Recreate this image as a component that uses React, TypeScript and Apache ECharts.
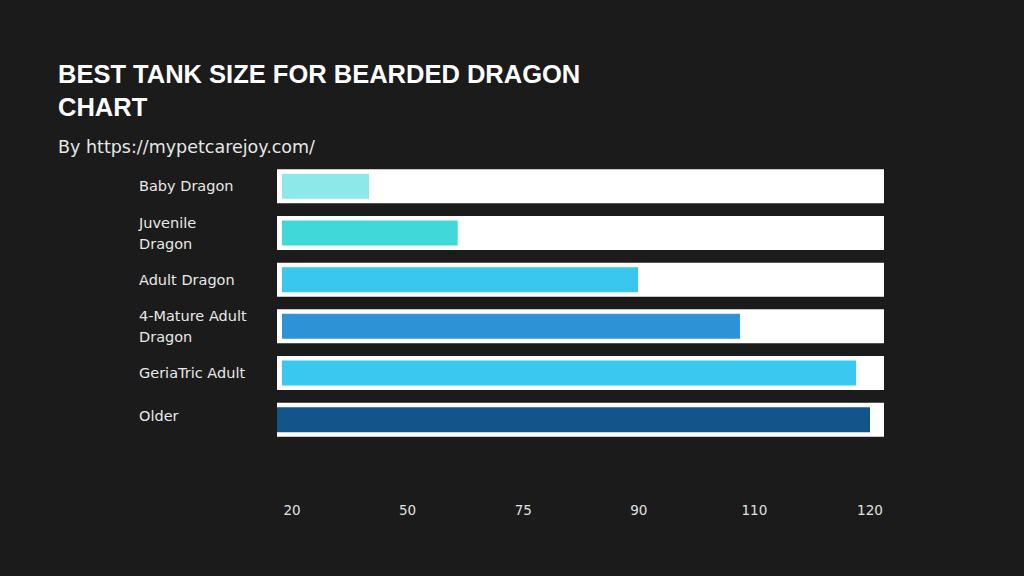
import React, { useEffect, useRef } from "react";
import * as echarts from "echarts";

const CATEGORIES = [
  "Baby Dragon",
  "Juvenile\nDragon",
  "Adult Dragon",
  "4-Mature Adult\nDragon",
  "GeriaTric Adult",
  "Older",
];
const TICK_LABELS = ["20", "50", "75", "90", "110", "120"];
// tick positions on the axis scale (one unit per label step)
const TICK_POSITIONS = [0.13, 1.13, 2.13, 3.13, 4.13, 5.13];
// where each coloured bar starts and ends on that scale
const BAR_START = [0.043, 0.043, 0.043, 0.043, 0.043, 0];
const BAR_END = [0.796, 1.563, 3.123, 4.005, 5.009, 5.13];
const TRACK_END = [5.251, 5.251, 5.251, 5.251, 5.251, 5.251];
const BAR_COLORS = ["#8de9e9", "#3fd9d9", "#39c7ee", "#2e92d7", "#39c8f0", "#13558a"];

const AXIS_MAX = 5.251;

export default function App() {
  const ref = useRef<HTMLDivElement>(null);
  useEffect(() => {
    if (!ref.current) return;
    const chart = echarts.init(ref.current, undefined, { renderer: "svg" });
    const lengths = BAR_END.map((e, i) => e - BAR_START[i]);
    const labelData = CATEGORIES.map((c) =>
      c === "Older"
        ? { value: c, textStyle: { align: "left", verticalAlign: "bottom", lineHeight: 8 } }
        : c
    );
    chart.setOption({
      animation: false,
      backgroundColor: "#1b1b1b",
      title: [
        {
          text: "BEST TANK SIZE FOR BEARDED DRAGON\nCHART",
          left: 53,
          top: 52,
          textStyle: {
            color: "#ffffff",
            fontFamily: "Liberation Sans",
            fontWeight: "bold",
            fontSize: 25.5,
            lineHeight: 33,
          },
        },
        {
          text: "By https://mypetcarejoy.com/",
          left: 53,
          top: 131,
          textStyle: {
            color: "#e6e6e6",
            fontFamily: "DejaVu Sans",
            fontWeight: 400,
            fontSize: 17.5,
            lineHeight: 21,
          },
        },
      ],
      grid: { left: 277, right: 140, top: 163, bottom: 133, containLabel: false },
      xAxis: {
        type: "value",
        min: 0,
        max: AXIS_MAX,
        splitLine: { show: false },
        axisLine: { show: false },
        axisTick: { show: false },
        axisLabel: {
          customValues: TICK_POSITIONS,
          formatter: (v: number) => {
            const i = TICK_POSITIONS.findIndex((p) => Math.abs(p - v) < 1e-6);
            return i >= 0 ? TICK_LABELS[i] : "";
          },
          color: "#e0e0e0",
          fontFamily: "DejaVu Sans",
          fontSize: 13.5,
          margin: 60,
          showMinLabel: true,
          showMaxLabel: true,
        },
      },
      yAxis: [
        {
          type: "category",
          inverse: true,
          data: labelData,
          axisLine: { show: false },
          axisTick: { show: false },
          splitLine: { show: false },
          axisLabel: {
            align: "left",
            margin: 138,
            color: "#e8e8e8",
            fontFamily: "DejaVu Sans",
            fontSize: 14.5,
            lineHeight: 21,
          },
        },
        {
          type: "category",
          inverse: true,
          data: CATEGORIES,
          show: false,
        },
      ],
      series: [
        {
          type: "bar",
          name: "track",
          yAxisIndex: 0,
          data: TRACK_END,
          barWidth: 34,
          itemStyle: { color: "#ffffff" },
          silent: true,
        },
        {
          type: "bar",
          name: "offset",
          yAxisIndex: 1,
          stack: "bars",
          data: BAR_START,
          barWidth: 25,
          itemStyle: { color: "transparent" },
          silent: true,
        },
        {
          type: "bar",
          name: "size",
          yAxisIndex: 1,
          stack: "bars",
          barWidth: 25,
          data: lengths.map((v, i) => ({ value: v, itemStyle: { color: BAR_COLORS[i] } })),
        },
      ],
    });
    return () => chart.dispose();
  }, []);
  return (
    <div
      ref={ref}
      style={{ position: "fixed", left: 0, top: 0, width: 1024, height: 576 }}
    />
  );
}
